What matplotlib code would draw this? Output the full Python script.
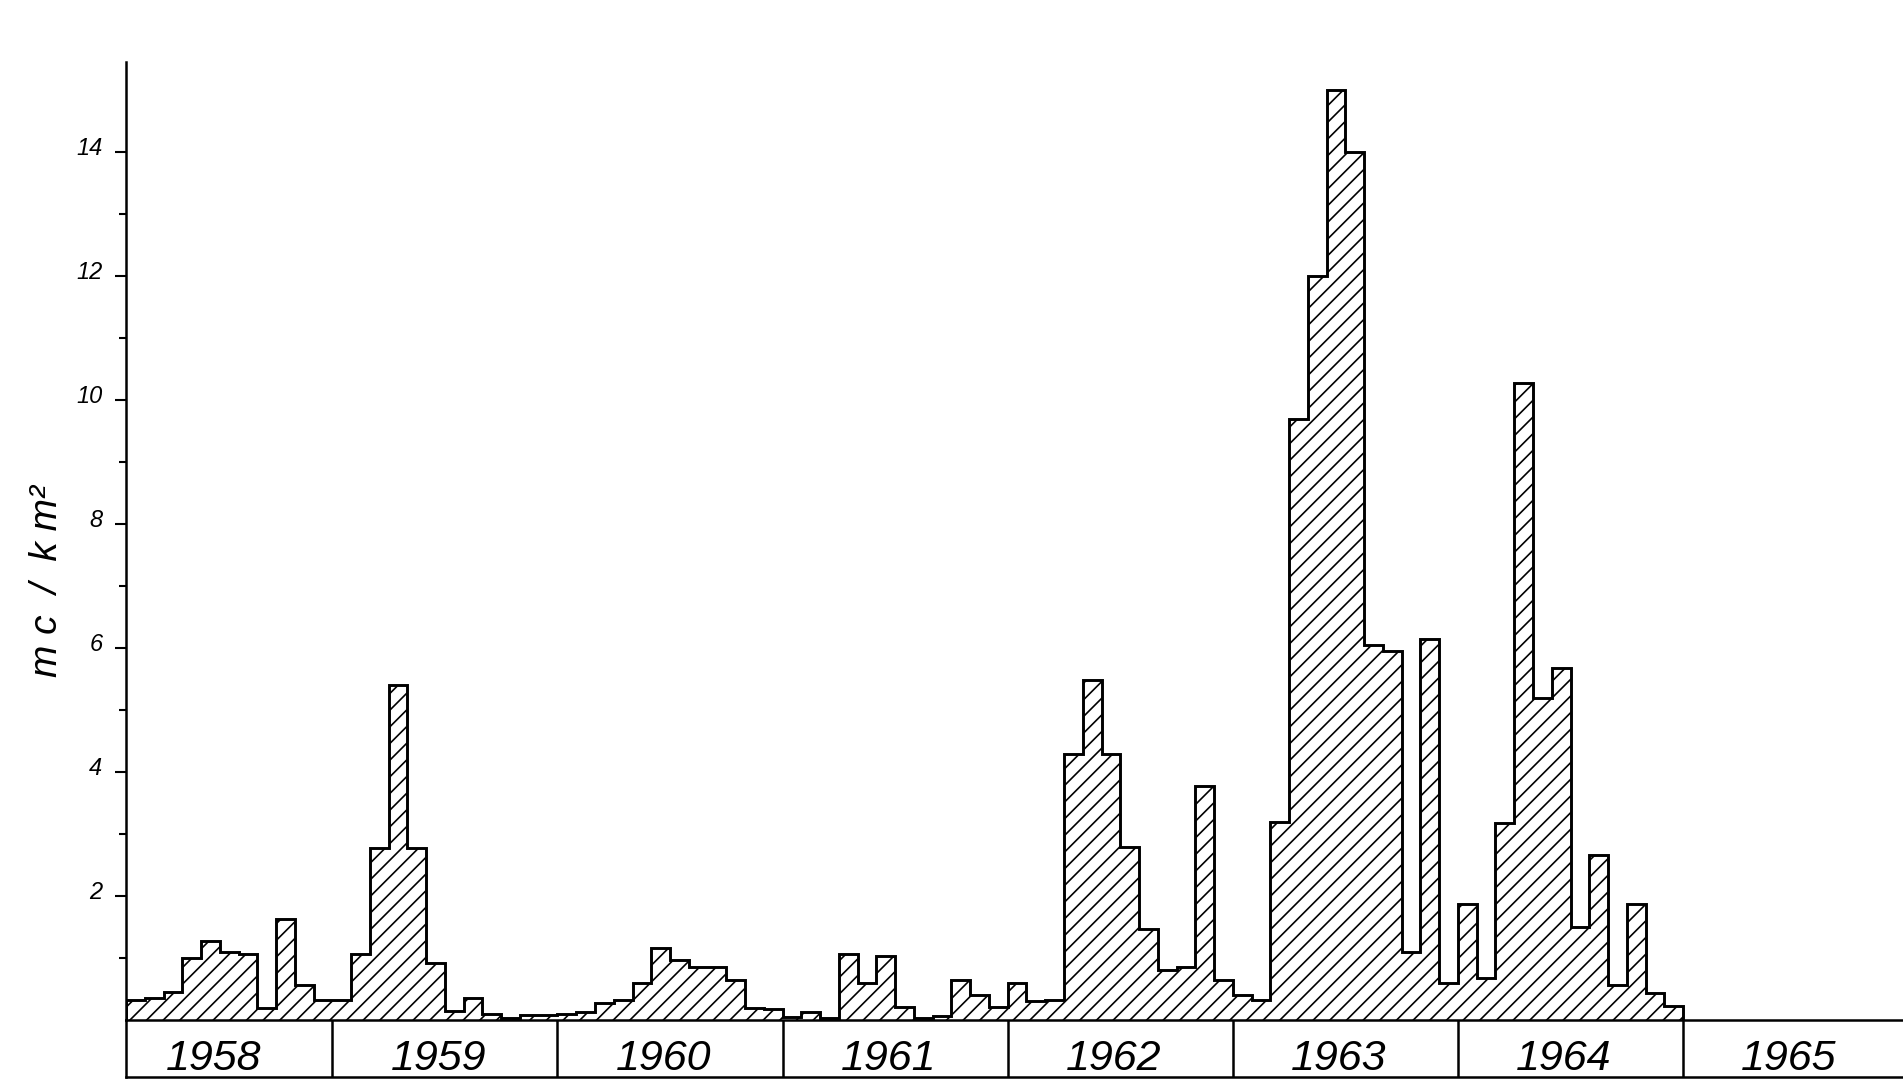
import matplotlib
matplotlib.use("Agg")
import matplotlib.pyplot as plt
import numpy as np
from matplotlib.transforms import ScaledTranslation

plt.rcParams["hatch.linewidth"] = 1.2
plt.rcParams["hatch.color"] = "black"

FONT = "Liberation Sans"

# Monthly deposition (mc/km^2); months are counted from January 1958 (= 0),
# the record starts in February 1958.
first_month = 1
v1958 = [0.32, 0.35, 0.45, 1.00, 1.28, 1.09, 1.07, 0.19, 1.63, 0.56, 0.33]
v1959 = [0.33, 1.06, 2.77, 5.40, 2.77, 0.92, 0.15, 0.36, 0.10, 0.03, 0.08, 0.08]
v1960 = [0.10, 0.13, 0.28, 0.33, 0.59, 1.16, 0.97, 0.86, 0.86, 0.65, 0.19, 0.17]
v1961 = [0.05, 0.13, 0.03, 1.06, 0.59, 1.04, 0.21, 0.03, 0.06, 0.64, 0.41, 0.21]
v1962 = [0.60, 0.30, 0.33, 4.29, 5.48, 4.29, 2.79, 1.47, 0.80, 0.86, 3.78, 0.65]
v1963 = [0.40, 0.32, 3.20, 9.70, 12.0, 15.0, 14.0, 6.05, 5.95, 1.10, 6.15, 0.60]
v1964 = [1.87, 0.67, 3.18, 10.27, 5.19, 5.67, 1.50, 2.66, 0.56, 1.87, 0.43, 0.23]

years = ["1958", "1959", "1960", "1961", "1962", "1963", "1964", "1965"]
y_major = [2, 4, 6, 8, 10, 12, 14]
y_minor = [1, 3, 5, 7, 9, 11, 13]
y_label = "m c  /  k m²"

values = np.array(v1958 + v1959 + v1960 + v1961 + v1962 + v1963 + v1964)
edges = np.arange(first_month, first_month + len(values) + 1)
year_edges = np.arange(12, 12 * len(years), 12)
year_mid = np.arange(len(years)) * 12 + 6

# ---- layout (pixels of the saved image) ----
W, H = 1903, 1079
left_px, base_px, top_px, strip_px = 126, 1020, 62, 1077
px_per_month, px_per_unit = 18.76, 62.0

fig = plt.figure(figsize=(W / 100, H / 100), dpi=100)
fig.patch.set_facecolor("white")

ax = fig.add_axes([left_px / W, (H - base_px) / H,
                   (W - left_px) / W, (base_px - top_px) / H])
ax.set_xlim(first_month, first_month + (W - left_px) / px_per_month)
ax.set_ylim(0, (base_px - top_px) / px_per_unit)
ax.patch.set_alpha(0)

# hatched area under the monthly steps
ax.fill_between(edges, np.append(values, values[-1]), step="post",
                facecolor="white", edgecolor="black", hatch="//",
                linewidth=0, zorder=2)
ax.stairs(values, edges, baseline=0, color="black", linewidth=2.1, zorder=3)

for side in ("top", "right"):
    ax.spines[side].set_visible(False)
for side in ("left", "bottom"):
    ax.spines[side].set_linewidth(1.8)
    ax.spines[side].set_zorder(4)

ax.set_xticks([])
ax.set_yticks(y_major)
ax.set_yticks(y_minor, minor=True)
ax.set_yticklabels([str(v) for v in y_major])
ax.tick_params(axis="y", which="major", direction="out", length=8,
               width=1.5, pad=9, labelsize=17)
ax.tick_params(axis="y", which="minor", direction="out", length=5, width=1.5)
shift = ScaledTranslation(0, 6 / 100, fig.dpi_scale_trans)
for lbl in ax.get_yticklabels():
    lbl.set_fontstyle("italic")
    lbl.set_fontfamily(FONT)
    lbl.set_transform(lbl.get_transform() + shift)

fig.text(47 / W, 1 - 581 / H, y_label, rotation=90, ha="center",
         va="center", fontsize=28, style="italic", family=FONT)

# ---- year strip below the baseline ----
sx = fig.add_axes([left_px / W, (H - strip_px) / H,
                   (W - left_px) / W, (strip_px - base_px) / H])
sx.set_xlim(ax.get_xlim())
sx.set_ylim(0, 1)
sx.patch.set_alpha(0)
sx.set_xticks([])
sx.set_yticks([])
for side in ("top", "right"):
    sx.spines[side].set_visible(False)
for side in ("left", "bottom"):
    sx.spines[side].set_linewidth(1.8)
sx.vlines(year_edges, 0, 1, color="black", linewidth=1.8)
for x, yr in zip(year_mid, years):
    sx.text(x - 0.35, (strip_px - 1070) / (strip_px - base_px), yr,
            ha="center", va="baseline", fontsize=31, style="italic",
            family=FONT)

fig.savefig("out.png", dpi=100, facecolor="white")
